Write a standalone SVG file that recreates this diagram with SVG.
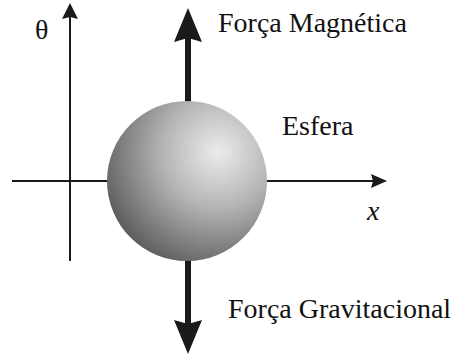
<svg xmlns="http://www.w3.org/2000/svg" width="456" height="356" viewBox="0 0 456 356">
  <style>
    .lbl { font-family: "Liberation Serif", "Times New Roman", serif; font-size: 28px; fill: #111; }
    .axis { stroke: #1a1a1a; stroke-width: 2; fill: none; }
    .force { stroke: #1a1a1a; stroke-width: 6; fill: none; }
    .head { fill: #1a1a1a; }
  </style>
  <defs>
    <radialGradient id="sph" gradientUnits="userSpaceOnUse" cx="218" cy="152" r="124" fx="218" fy="152">
      <stop offset="0" stop-color="#ececec"/>
      <stop offset="0.45" stop-color="#b4b4b5"/>
      <stop offset="1" stop-color="#5a5b5d"/>
    </radialGradient>
  </defs>
  <rect width="456" height="356" fill="#ffffff"/>
  <g id="connectors">
    <g id="theta-axis">
      <line class="axis" x1="70" y1="261" x2="70" y2="16"/>
      <polygon class="head" points="70,3 78,19 70,17 62,19"/>
    </g>
    <g id="x-axis">
      <line class="axis" x1="12" y1="181" x2="376" y2="181"/>
      <polygon class="head" points="387,181 371,188 373,181 371,174"/>
    </g>
    <g id="force-up">
      <line class="force" x1="188" y1="104" x2="188" y2="38"/>
      <polygon class="head" points="188,8 202,42 188,38 174,42"/>
    </g>
    <g id="force-down">
      <line class="force" x1="188" y1="258" x2="188" y2="324"/>
      <polygon class="head" points="188,354 202,320 188,324 174,320"/>
    </g>
  </g>
  <g id="sphere">
    <circle cx="187" cy="181" r="80" fill="url(#sph)"/>
  </g>
  <g id="labels">
    <text class="lbl" x="35" y="39">θ</text>
    <text class="lbl" x="218" y="32">Força Magnética</text>
    <text class="lbl" x="282" y="135">Esfera</text>
    <text class="lbl" x="367" y="220" font-style="italic">x</text>
    <text class="lbl" x="228" y="318">Força Gravitacional</text>
  </g>
</svg>
